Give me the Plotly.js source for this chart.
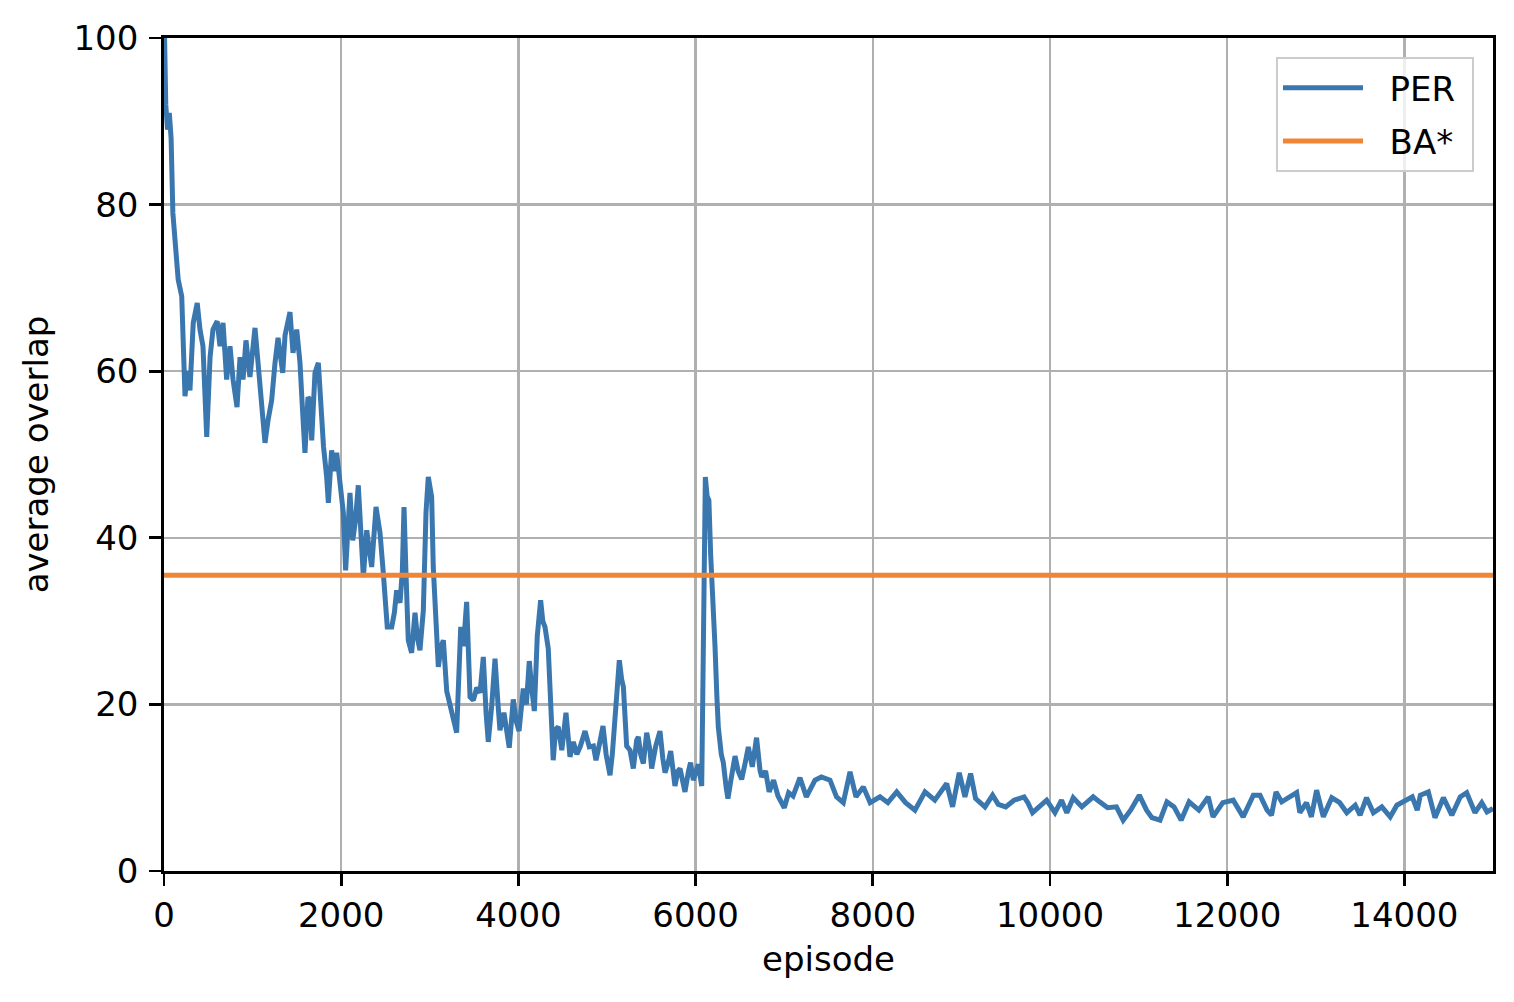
<!DOCTYPE html>
<html>
<head>
<meta charset="utf-8">
<script src="https://cdn.plot.ly/plotly-3.0.1.min.js"></script>
<style>html,body{margin:0;padding:0;background:#fff;}#chart{width:1514px;height:1002px;}</style>
</head>
<body>
<div id="chart"></div>
<script>
const perEpisodes = [0,20,40,60,80,100,130,160,200,237,265,293,330,375,406,440,482,520,553,600,632,666,707,745,779,824,858,892,925,970,1027,1061,1103,1140,1174,1215,1253,1287,1340,1366,1422,1456,1498,1535,1560,1591,1625,1648,1667,1704,1742,1780,1800,1836,1855,1892,1920,1949,1986,2024,2050,2075,2099,2130,2160,2193,2220,2250,2288,2320,2344,2393,2438,2475,2520,2570,2600,2626,2664,2690,2709,2731,2757,2795,2833,2860,2889,2927,2957,2983,3021,3039,3058,3096,3130,3153,3191,3247,3280,3303,3349,3380,3416,3454,3491,3530,3567,3604,3635,3660,3700,3736,3770,3792,3837,3870,3897,3942,3975,4007,4055,4090,4123,4150,4180,4213,4251,4275,4300,4337,4360,4393,4420,4450,4490,4537,4582,4620,4660,4700,4752,4800,4846,4876,4920,4955,4990,5034,5060,5090,5139,5165,5185,5222,5260,5297,5335,5354,5380,5410,5448,5485,5504,5550,5598,5630,5655,5690,5719,5767,5800,5824,5860,5880,5920,5943,5974,6000,6031,6069,6090,6110,6130,6150,6170,6190,6219,6240,6256,6290,6313,6345,6365,6400,6426,6445,6480,6520,6560,6595,6640,6688,6727,6746,6790,6830,6880,6930,7001,7050,7100,7178,7250,7300,7348,7420,7517,7590,7667,7743,7810,7893,7970,8081,8170,8270,8370,8476,8589,8700,8834,8900,8976,9040,9104,9160,9266,9352,9416,9500,9594,9707,9750,9803,9880,9962,10056,10130,10190,10262,10360,10488,10560,10650,10750,10826,10910,11008,11090,11150,11242,11320,11400,11480,11570,11680,11786,11840,11950,12068,12180,12295,12370,12450,12500,12551,12615,12710,12784,12820,12895,12950,13009,13085,13180,13270,13350,13445,13500,13573,13650,13745,13840,13915,14012,14088,14145,14180,14270,14345,14440,14535,14630,14703,14797,14873,14932,15000];
const perOverlap = [104,92,89,91,88,79,75,71,69,57,60,57.7,65.8,68.2,65,63,52.1,61.7,65,66,63,65.8,59,63,59,55.7,61.7,59,63.7,59.3,65.2,61,55,51.4,54.1,56.5,61,64,59.8,64.3,67.1,62.2,65,61,56,50.2,56.9,56.5,51.7,59.8,61,53,51,47.3,44.2,50.5,48,50.2,46.1,43,36.1,42,45.4,39.7,42,46.3,40,35.3,40.9,38,36.5,43.7,40.6,35.8,29.3,29.3,31,33.7,32.2,36,43.7,35.8,27.7,26.2,31,28,26.5,31.3,43,47.3,44.9,36.5,31.7,24.5,27,27.7,21.6,19.3,18,16.6,29.3,27,32.3,20.9,20.5,22,21.4,25.7,19,15.5,20,25.5,20,16.9,19,17,14.8,20.6,18,16.8,21.9,20,25.2,22,19.2,28.2,32.5,30,29.3,26.7,20,13.3,17,17.3,14.5,19,13.7,15.5,14,15,16.8,14.9,15,13.3,15.5,17.4,14,11.5,14,18.5,25.3,23,22.1,15,14.5,12.3,15.7,16.1,14,12.9,16.6,14.5,12.3,15,16.8,13.5,11.8,13,14.4,10.2,12,12.3,10.5,9.5,12,13,10.9,12,12.8,10.2,30,47.3,45,44.5,38,34,27,21,17.3,14,13,10,8.7,11,12.9,13.8,12,11,13,14.9,12.5,16,12.1,11.3,12,9.5,10.9,9,7.6,9.4,9,11.2,8.9,10,10.9,11.3,10.9,8.9,8.2,11.9,8.9,10.1,8.2,8.9,8.2,9.5,8.2,7.3,9.5,8.5,10.5,7.7,11.8,8.9,11.7,8.7,7.7,9.1,8,7.7,8.5,8.9,8.2,7.0,7.7,8.5,7.0,8.5,7.0,8.8,7.7,8.9,8.3,7.6,7.7,6.1,7.3,9.1,7.3,6.4,6.1,8.3,7.7,6.1,8.3,7.3,8.9,6.5,8.2,8.5,6.5,9.1,9.1,7.3,6.7,9.5,8.3,8.9,9.4,7.0,8.2,6.5,9.7,6.5,8.8,8.2,7.0,7.9,6.7,8.8,7.0,7.7,6.5,7.9,8.5,8.9,7.3,9.1,9.5,6.4,8.8,6.7,8.9,9.4,7.0,8.2,7.1,7.5];
const baEpisodes = [0, 15000];
const baOverlap = [35.5, 35.5];
const xTicks = [0,2000,4000,6000,8000,10000,12000,14000];
const yTicks = [0,20,40,60,80,100];
const seriesNames = ['PER', 'BA*'];

const font = {family: 'DejaVu Sans, sans-serif', size: 34, color: '#000'};
const pad = s => '\u00a0\u00a0' + s + '\u00a0';

const traces = [
  {x: perEpisodes, y: perOverlap, type: 'scatter', mode: 'lines', name: pad(seriesNames[0]),
   legendgroup: 'a', line: {color: '#3b77af', width: 5}},
  {x: baEpisodes, y: baOverlap, type: 'scatter', mode: 'lines', name: pad(seriesNames[1]),
   legendgroup: 'b', line: {color: '#ef8636', width: 5}}
];

const layout = {
  width: 1514, height: 1002,
  margin: {l: 164, r: 21, t: 38, b: 131, pad: 0},
  paper_bgcolor: '#fff', plot_bgcolor: '#fff',
  font: font,
  showlegend: true,
  legend: {x: 0.9857, y: 0.977, xanchor: 'right', yanchor: 'top',
    bgcolor: 'rgba(255,255,255,0.8)', bordercolor: '#cccccc', borderwidth: 2,
    font: font, traceorder: 'grouped', tracegroupgap: 6, itemwidth: 80},
  xaxis: {range: [0, 15000], tickvals: xTicks, ticktext: xTicks.map(String),
    showgrid: true, gridcolor: '#b0b0b0', gridwidth: 2.5, zeroline: false,
    showline: true, mirror: true, linecolor: '#000', linewidth: 2.8,
    ticks: 'outside', ticklen: 12, tickwidth: 2.8, tickcolor: '#000',
    ticklabelstandoff: 0,
    title: {text: 'episode', font: font, standoff: 14}, automargin: false},
  yaxis: {range: [0, 100], tickvals: yTicks, ticktext: yTicks.map(String),
    showgrid: true, gridcolor: '#b0b0b0', gridwidth: 2.5, zeroline: false,
    showline: true, mirror: true, linecolor: '#000', linewidth: 2.8,
    ticks: 'outside', ticklen: 12, tickwidth: 2.8, tickcolor: '#000',
    ticklabelstandoff: 4,
    title: {text: 'average overlap', font: font, standoff: 15}, automargin: false}
};

Plotly.newPlot('chart', traces, layout, {displayModeBar: false, staticPlot: true});
</script>
</body>
</html>
